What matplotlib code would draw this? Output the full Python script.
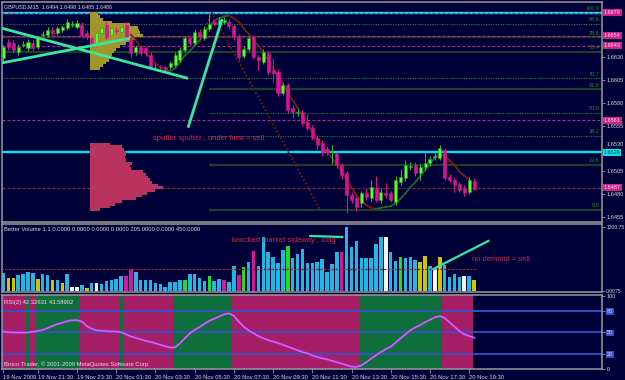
import numpy as np
import matplotlib
matplotlib.use("Agg")
import matplotlib.pyplot as plt
from matplotlib.transforms import ScaledTranslation

plt.rcParams['font.family'] = ['Liberation Sans', 'DejaVu Sans']

# ---------------- data (GBPUSD M15, 19 Nov 19:45 .. 20 Nov 19:45) ----------------
opens = [1.6629, 1.6647, 1.6646, 1.6636, 1.6644, 1.6640, 1.6646, 1.6641, 1.6655, 1.6655,
         1.6660, 1.6657, 1.6660, 1.6662, 1.6666, 1.6663, 1.6666, 1.6657, 1.6651, 1.6646,
         1.6657, 1.6666, 1.6655, 1.6660, 1.6658, 1.6666, 1.6651, 1.6636, 1.6641, 1.6640,
         1.6633, 1.6619, 1.6620, 1.6619, 1.6619, 1.6622, 1.6627, 1.6638, 1.6651, 1.6646,
         1.6658, 1.6651, 1.6661, 1.6669, 1.6666, 1.6669, 1.6669, 1.6664, 1.6654, 1.6632,
         1.6639, 1.6652, 1.6630, 1.6625, 1.6635, 1.6616, 1.6614, 1.6591, 1.6600, 1.6575,
         1.6569, 1.6570, 1.6559, 1.6553, 1.6542, 1.6536, 1.6530, 1.6526, 1.6525, 1.6512,
         1.6503, 1.6479, 1.6476, 1.6470, 1.6481, 1.6476, 1.6487, 1.6474, 1.6481, 1.6481,
         1.6471, 1.6493, 1.6498, 1.6510, 1.6512, 1.6503, 1.6510, 1.6514, 1.6521, 1.6520,
         1.6529, 1.6499, 1.6496, 1.6491, 1.6487, 1.6482, 1.6494]
closes = [1.6641, 1.6641, 1.6638, 1.6641, 1.6645, 1.6647, 1.6640, 1.6651, 1.6656, 1.6660,
          1.6657, 1.6662, 1.6663, 1.6669, 1.6667, 1.6668, 1.6655, 1.6652, 1.6644, 1.6657,
          1.6662, 1.6652, 1.6662, 1.6659, 1.6663, 1.6652, 1.6635, 1.6641, 1.6635, 1.6635,
          1.6619, 1.6620, 1.6619, 1.6617, 1.6624, 1.6633, 1.6638, 1.6651, 1.6646, 1.6658,
          1.6652, 1.6661, 1.6667, 1.6667, 1.6671, 1.6671, 1.6664, 1.6652, 1.6630, 1.6639,
          1.6651, 1.6630, 1.6627, 1.6636, 1.6614, 1.6613, 1.6591, 1.6600, 1.6572, 1.6570,
          1.6570, 1.6558, 1.6553, 1.6542, 1.6534, 1.6526, 1.6526, 1.6527, 1.6512, 1.6501,
          1.6479, 1.6474, 1.6466, 1.6481, 1.6477, 1.6488, 1.6474, 1.6482, 1.6479, 1.6474,
          1.6496, 1.6499, 1.6512, 1.6511, 1.6503, 1.6510, 1.6514, 1.6519, 1.6522, 1.6531,
          1.6498, 1.6496, 1.6490, 1.6485, 1.6481, 1.6496, 1.6486]
highs = [1.6644, 1.6650, 1.6649, 1.6645, 1.6648, 1.6650, 1.6649, 1.6654, 1.6659, 1.6663,
         1.6663, 1.6665, 1.6666, 1.6672, 1.6670, 1.6671, 1.6669, 1.6660, 1.6654, 1.6660,
         1.6665, 1.6669, 1.6665, 1.6663, 1.6666, 1.6669, 1.6654, 1.6644, 1.6644, 1.6643,
         1.6636, 1.6623, 1.6622, 1.6621, 1.6626, 1.6636, 1.6641, 1.6654, 1.6654, 1.6661,
         1.6661, 1.6664, 1.6679, 1.6672, 1.6674, 1.6674, 1.6672, 1.6667, 1.6656, 1.6642,
         1.6654, 1.6655, 1.6633, 1.6639, 1.6637, 1.6629, 1.6617, 1.6603, 1.6602, 1.6578,
         1.6573, 1.6572, 1.6568, 1.6556, 1.6545, 1.6539, 1.6533, 1.6534, 1.6527, 1.6514,
         1.6505, 1.6482, 1.6478, 1.6484, 1.6487, 1.6496, 1.6500, 1.6487, 1.6492, 1.6484,
         1.6500, 1.6508, 1.6517, 1.6515, 1.6515, 1.6513, 1.6528, 1.6522, 1.6525, 1.6534,
         1.6531, 1.6502, 1.6499, 1.6493, 1.6490, 1.6499, 1.6498]
lows = [1.6626, 1.6638, 1.6635, 1.6633, 1.6641, 1.6637, 1.6637, 1.6639, 1.6652, 1.6652,
        1.6654, 1.6655, 1.6658, 1.6660, 1.6663, 1.6661, 1.6652, 1.6649, 1.6641, 1.6643,
        1.6655, 1.6650, 1.6652, 1.6656, 1.6655, 1.6649, 1.6631, 1.6633, 1.6632, 1.6632,
        1.6616, 1.6617, 1.6616, 1.6614, 1.6617, 1.6620, 1.6625, 1.6636, 1.6643, 1.6644,
        1.6649, 1.6649, 1.6659, 1.6664, 1.6664, 1.6667, 1.6661, 1.6649, 1.6627, 1.6629,
        1.6637, 1.6628, 1.6616, 1.6623, 1.6611, 1.6603, 1.6588, 1.6589, 1.6569, 1.6564,
        1.6566, 1.6555, 1.6550, 1.6539, 1.6530, 1.6522, 1.6523, 1.6513, 1.6509, 1.6497,
        1.6459, 1.6470, 1.6462, 1.6466, 1.6474, 1.6473, 1.6471, 1.6470, 1.6476, 1.6471,
        1.6468, 1.6490, 1.6495, 1.6507, 1.6500, 1.6496, 1.6507, 1.6511, 1.6518, 1.6517,
        1.6496, 1.6493, 1.6482, 1.6482, 1.6478, 1.6480, 1.6485]

# hull moving average (bars 26..95)
hma_start = 26
hma = [1.6655, 1.6649, 1.6641, 1.6635, 1.6629, 1.6624, 1.6619, 1.6616, 1.6615, 1.6618,
       1.6625, 1.6632, 1.6637, 1.6643, 1.6649, 1.6657, 1.6664, 1.6670, 1.6673, 1.6675,
       1.6676, 1.6673, 1.6669, 1.6662, 1.6656, 1.6649, 1.6643, 1.6635, 1.6627, 1.6618,
       1.6610, 1.6601, 1.6592, 1.6583, 1.6575, 1.6566, 1.6557, 1.6548, 1.6541, 1.6533,
       1.6526, 1.6520, 1.6513, 1.6504, 1.6496, 1.6487, 1.6479, 1.6473, 1.6468, 1.6465,
       1.6464, 1.6465, 1.6466, 1.6467, 1.6470, 1.6475, 1.6481, 1.6488, 1.6493, 1.6500,
       1.6506, 1.6513, 1.6520, 1.6524, 1.6522, 1.6517, 1.6512, 1.6505, 1.6500, 1.6496]

volumes = [360, 260, 260, 325, 345, 385, 365, 245, 345, 325,
           225, 225, 165, 345, 80, 80, 120, 60, 160, 160,
           145, 200, 220, 245, 300, 305, 445, 390, 220, 220,
           230, 160, 150, 85, 180, 180, 215, 215, 345, 345,
           270, 200, 300, 200, 250, 220, 180, 510, 330, 490,
           590, 810, 500, 1100, 790, 690, 570, 830, 910, 670,
           750, 850, 570, 560, 590, 650, 390, 550, 790, 790,
           1300, 890, 1015, 670, 670, 670, 950, 1100, 1100, 790,
           610, 690, 670, 690, 630, 590, 710, 510, 445, 690,
           530, 280, 345, 290, 295, 295, 220]
vol_kind = "cyyccccyccycycwwcycwcccccmmccccccccccgccccgccmccmgcmccccccgccccccccccmccccccccwccgcccyycwyccccw"
vol_avg = 450

rsi = [51, 50.5, 50, 50, 49.7, 50, 51, 52, 53.5, 56,
       59, 61.5, 63.5, 65.5, 66.8, 67, 65, 59, 55, 53,
       52.4, 52, 51.5, 51.2, 50.5, 47.5, 44.5, 42.5, 40.5, 38.5,
       37, 35, 33, 31, 29.2, 29.5, 35, 42, 48.8, 53.5,
       57.5, 62, 66, 69, 72, 75, 76.3, 73, 65, 58,
       53, 49, 45, 42, 39.5, 37.5, 35.5, 33, 30.5, 28,
       25.5, 23, 21.3, 18.5, 16, 14.5, 13, 11, 9, 7,
       5, 3, 2.5, 4.5, 9, 14, 18.5, 23, 27, 30.4,
       36, 42, 47.5, 53, 57, 60, 64, 67.5, 70.8, 72.5,
       70, 64, 58, 52, 47.5, 45, 42.8]

# trend state bands behind the RSI (edges in bars, 1 = up)
band_edges = [-0.5, 4.5, 5.5, 6.5, 15.5, 23.5, 24.5, 34.5, 46.5, 72.5, 89.5, 95.8]
band_up = [0, 1, 0, 1, 0, 1, 0, 1, 0, 1, 0]

# volume profiles
olive_prices = [1.6678, 1.6675, 1.6672, 1.6669, 1.6666, 1.6663, 1.6660, 1.6657, 1.6654, 1.6651, 1.6648,
                1.6645, 1.6642, 1.6639, 1.6636, 1.6633, 1.6630, 1.6627, 1.6624, 1.6621, 1.6618]
olive_counts = [1.6, 2.0, 2.7, 4.5, 8.2, 9.8, 10.0, 10.2, 10.8, 9.2, 8.4,
                7.3, 6.1, 5.3, 4.9, 4.5, 4.3, 3.9, 3.3, 2.7, 2.0]
red_prices = [1.6535, 1.6532, 1.6529, 1.6526, 1.6523, 1.6520, 1.6517, 1.6514, 1.6511, 1.6508, 1.6505, 1.6502,
              1.6499, 1.6496, 1.6493, 1.6490, 1.6487, 1.6484, 1.6481, 1.6478, 1.6475, 1.6472, 1.6469, 1.6466, 1.6463]
red_counts = [4.1, 6.5, 6.9, 7.3, 7.3, 7.1, 7.3, 8.6, 8.2, 8.4, 10.8, 11.4,
              11.8, 12.2, 12.7, 13.9, 14.9, 13.3, 11.6, 10.6, 9.4, 6.5, 5.1, 4.1, 2.0]
profile_left = 17.6

# horizontal levels
cyan_levels = [1.6679, 1.6526]
pink_levels = [1.6679, 1.6654, 1.6643, 1.6561]
red_level = 1.6487
fib_prices = [1.6679, 1.6667, 1.6652, 1.6636, 1.6607, 1.6595, 1.6569, 1.6544, 1.6512, 1.6463]
fib_labels = ["100.0", "88.6", "78.6", "76.4", "70.7", "61.8", "50.0", "38.2", "23.6", "0.0"]
fib_start = [None, -1, -1, -1, -1, 42, 42, 42, 42, 42]
fib_solid = [False, False, True, True, False, True, False, False, True, True]
price_boxes = [(1.6679, "1.6679", "pink"), (1.6654, "1.6654", "pink"), (1.6643, "1.6643", "pink"),
               (1.6561, "1.6561", "pink"), (1.6526, "1.6526", "cyan"), (1.6487, "1.6487", "pink")]
price_ticks = [1.6455, 1.6480, 1.6505, 1.6530, 1.6555, 1.6580, 1.6605, 1.6630]

# hand drawn lines
trend_lines = [([-0.3, 37.65], [1.6662, 1.6607]),
               ([-0.3, 25.8], [1.6624, 1.6651]),
               ([37.65, 44.6], [1.6553, 1.6672])]
zigzag_x = [40, 42.5, 64.6]
zigzag_y = [1.6646, 1.6679, 1.6463]
vol_lines = [([62.6, 69.1], [1117, 1096]),
             ([87.7, 98.9], [447, 1015])]

time_ticks = [0, 7, 15, 23, 31, 39, 47, 55, 63, 71, 79, 87, 95]
time_labels = ["19 Nov 2009", "19 Nov 21:30", "19 Nov 23:30", "20 Nov 01:30", "20 Nov 03:30",
               "20 Nov 05:30", "20 Nov 07:30", "20 Nov 09:30", "20 Nov 11:30", "20 Nov 13:30",
               "20 Nov 15:30", "20 Nov 17:30", "20 Nov 19:30"]

# ---------------- styling ----------------
BG = '#000038'
GRID = '#9a9a9a'
TXT = '#d8d8d8'
BULL, BULL_EDGE = '#5cff2c', '#1e9e1e'
BEAR = '#d8148e'
PINK = '#d0208a'
CYAN = '#00e4ee'
TREND = '#38e89c'
NOTE = '#d2284a'
VOL_COL = {'c': '#22b6e4', 'y': '#cfc400', 'w': '#f4f4f4', 'm': '#d8169a', 'g': '#1ee01e'}

W, H = 625, 380


def rect(x0, y0, x1, y1):
    return [x0 / W, 1 - y1 / H, (x1 - x0) / W, (y1 - y0) / H]


fig = plt.figure(figsize=(6.25, 3.8), dpi=100, facecolor=BG)
ax = fig.add_axes(rect(2, 2, 602, 222))
axv = fig.add_axes(rect(2, 224, 602, 292))
axr = fig.add_axes(rect(2, 295, 602, 369))

XLIM = (-0.3, 122.1)
for a in (ax, axv, axr):
    a.set_facecolor(BG)
    a.set_xlim(*XLIM)
    for s in a.spines.values():
        s.set_color(GRID)
        s.set_linewidth(1.1)
    a.yaxis.tick_right()
    a.tick_params(axis='y', length=2, width=0.6, color=GRID, pad=1.5,
                  labelsize=4.1, labelcolor=TXT)

# ---------------- main price panel ----------------
ax.set_ylim(1.64495, 1.66908)
ax.set_xticks([])
ax.set_yticks(price_ticks)
ax.set_yticklabels([f"{p:.4f}" for p in price_ticks])
# the 1.6530 label sits just above the cyan 1.6526 box
for t in ax.get_yticklabels():
    if t.get_text() == "1.6530":
        t.set_transform(t.get_transform() + ScaledTranslation(0, 3 / 72, fig.dpi_scale_trans))

# fibonacci / level lines
for p, lab, st, solid in zip(fib_prices, fib_labels, fib_start, fib_solid):
    if st is not None:
        if solid:
            ax.hlines(p, st, XLIM[1], color='#1f3d28', lw=1.6, zorder=1)
        else:
            ax.hlines(p, st, XLIM[1], color='#1f8a22', lw=0.8, linestyles=(0, (1, 1.2)), zorder=1)
    ax.annotate(lab, (121.6, p), xytext=(0, 1.2), textcoords='offset points',
                ha='right', va='bottom', fontsize=4, color='#1f8a22', zorder=2)

for p in cyan_levels:
    ax.axhline(p, color=CYAN, lw=1.7, zorder=1.2)
for p in pink_levels:
    ax.axhline(p, color=PINK, lw=0.8, ls=(0, (2.5, 2)), zorder=1.3)
ax.axhline(red_level, color='#8c2424', lw=0.9, ls=(0, (2.5, 1.5)), zorder=1.3)

# volume profiles
ax.barh(olive_prices, olive_counts, height=0.0003, left=profile_left,
        color='#a0962c', lw=0, zorder=1.5)
ax.barh(red_prices, red_counts, height=0.0003, left=profile_left,
        color='#b8345e', lw=0, zorder=1.5)

# hull MA, coloured by slope
hx = np.arange(hma_start, hma_start + len(hma))
for j in range(len(hma) - 1):
    col = '#1e6e1e' if hma[j + 1] >= hma[j] else '#7c1e10'
    ax.plot(hx[j:j + 2], hma[j:j + 2], color=col, lw=1.2, zorder=2)

ax.plot(zigzag_x, zigzag_y, color='#6e1c14', lw=1.3, ls=(0, (1, 1.2)), zorder=2)

# candles
idx = np.arange(len(opens))
o, c = np.array(opens), np.array(closes)
hi, lo = np.array(highs), np.array(lows)
up = c >= o
dn = ~up
ax.vlines(idx[up], lo[up], hi[up], color='#30c030', lw=0.7, zorder=3)
ax.vlines(idx[dn], lo[dn], hi[dn], color=BEAR, lw=0.7, zorder=3)
ax.bar(idx[up], c[up] - o[up], bottom=o[up], width=0.62, color=BULL,
       edgecolor=BULL_EDGE, lw=0.4, zorder=3.1)
ax.bar(idx[dn], c[dn] - o[dn], bottom=o[dn], width=0.62, color=BEAR,
       edgecolor=BEAR, lw=0.4, zorder=3.1)

for xs, ys in trend_lines:
    ax.plot(xs, ys, color=TREND, lw=2.0, solid_capstyle='butt', zorder=4)

ax.text(30.5, 1.65416, "sputter sputter , under hma = sell", color=NOTE,
        fontsize=5.4, va='center', ha='left', zorder=5)
ax.text(0.004, 0.988, "GBPUSD,M15  1.6494 1.6498 1.6485 1.6486", transform=ax.transAxes,
        color=TXT, fontsize=3.9, va='top', ha='left', zorder=5)

ytr = ax.get_yaxis_transform()
for p, lab, kind in price_boxes:
    fc, tc = (PINK, '#ffd8ee') if kind == 'pink' else (CYAN, '#00404a')
    ax.text(1.003, p, lab, transform=ytr, fontsize=4.0, color=tc, va='center', ha='left',
            zorder=10, bbox=dict(boxstyle='square,pad=0.18', fc=fc, ec='none'))

# ---------------- volume panel ----------------
axv.set_ylim(-20, 1360)
axv.set_xticks([])
axv.set_yticks([0, 1300.75])
axv.set_yticklabels(["0.0075", "1300.75"])
axv.tick_params(axis='y', labelsize=3.6, pad=1)
axv.bar(idx, volumes, width=0.72, color=[VOL_COL[k] for k in vol_kind], lw=0, zorder=2)
axv.hlines(vol_avg, -0.5, len(volumes) - 0.5, color='#8c2424', lw=0.9,
           linestyles=(0, (2, 1)), zorder=3)
for xs, ys in vol_lines:
    axv.plot(xs, ys, color=TREND, lw=1.6, zorder=4)
axv.text(46.6, 1035, "knocked market sideway , long", color=NOTE, fontsize=5.4,
         va='center', ha='left', zorder=5)
axv.text(95.6, 630, "no demand = sell", color=NOTE, fontsize=5.4,
         va='center', ha='left', zorder=5)
axv.text(0.004, 0.955, "Better Volume 1.1 0.0000 0.0000 0.0000 0.0000 205.0000 0.0000 450.0000",
         transform=axv.transAxes, color=TXT, fontsize=4.2, va='top', ha='left', zorder=5)

# ---------------- RSI panel ----------------
axr.set_ylim(-0.3, 101.6)
for k in range(len(band_up)):
    axr.axvspan(band_edges[k], band_edges[k + 1], color='#0e6e3c' if band_up[k] else '#a61f66',
                lw=0, zorder=0.5)
for lv in (80, 50, 20):
    axr.axhline(lv, color='#3552c4', lw=1.3, zorder=1)
axr.plot(idx, rsi, color='#ff1cff', lw=1.5, zorder=2)
axr.plot(idx, rsi, color='#50c8e8', lw=0.5, zorder=2.1)
axr.set_yticks([0, 20, 50, 80, 100])
axr.set_yticklabels(["0", "20", "50", "80", "100"])
for t in axr.get_yticklabels():
    if t.get_text() in ("20", "50", "80"):
        t.set_bbox(dict(boxstyle='square,pad=0.15', fc='#3552c4', ec='none'))
axr.text(0.004, 0.905, "RSI(2) 42.32631 43.58902", transform=axr.transAxes,
         color='#f0d8f0', fontsize=4.2, va='center', ha='left', zorder=5)
axr.text(0.004, 0.06, "Broco Trader, \u00a9 2001-2009 MetaQuotes Software Corp.",
         transform=axr.transAxes, color='#e0e0e0', fontsize=4.2, va='center', ha='left', zorder=5)

axr.set_xticks(time_ticks)
axr.set_xticklabels(time_labels)
axr.tick_params(axis='x', length=3, width=0.6, color=GRID, pad=1.2,
                labelsize=4.2, labelcolor=TXT)
for t in axr.get_xticklabels():
    t.set_horizontalalignment('left')

fig.savefig("out.png", dpi=100, facecolor=BG)
